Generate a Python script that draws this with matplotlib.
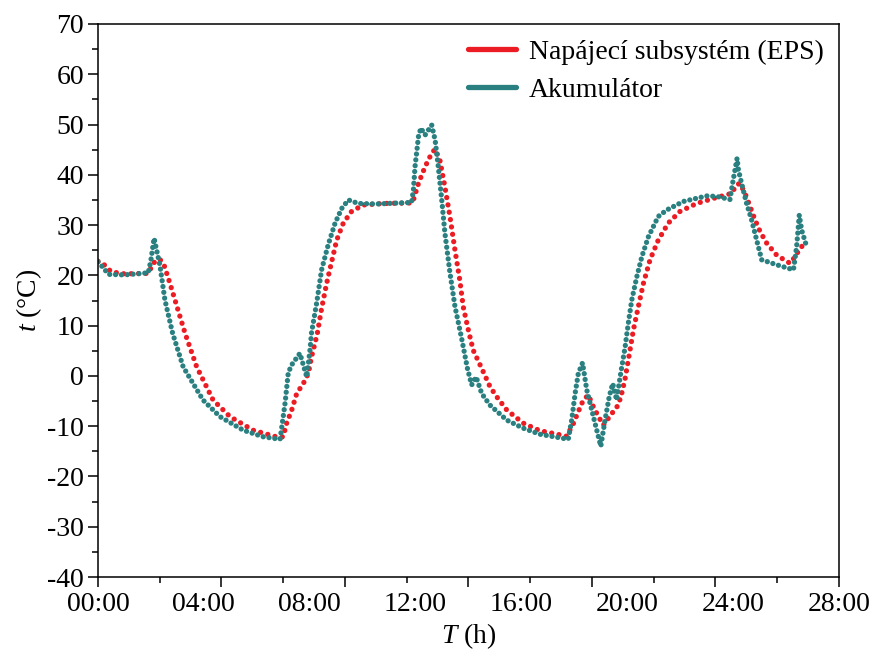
import numpy as np
import matplotlib.pyplot as plt
from matplotlib.lines import Line2D
from matplotlib.ticker import MultipleLocator, FixedLocator, NullLocator

plt.rcParams['font.family'] = ['Liberation Serif', 'DejaVu Serif']
plt.rcParams['mathtext.fontset'] = 'custom'
plt.rcParams['mathtext.rm'] = 'Liberation Serif'
plt.rcParams['mathtext.it'] = 'Liberation Serif:italic'
plt.rcParams['axes.unicode_minus'] = False

# values (time in hours, temperature in degC)
t_eps = [0, 0.2, 0.5, 1.0, 1.9, 2.1, 2.34, 2.5, 2.72, 2.91, 3.29, 3.73, 4.35, 4.99,
         5.86, 6.8, 7.0, 7.13, 7.32, 7.51, 7.76, 7.95, 8.07, 8.2, 8.29, 8.45, 8.64,
         8.83, 9.02, 9.27, 9.58, 10.02, 10.78, 11.85, 11.92, 12.11, 12.36, 12.61,
         12.74, 12.92, 13.11, 13.30, 13.49, 13.68, 13.80, 14.0, 14.18, 14.50, 14.81,
         15.06, 15.45, 16.07, 16.7, 17.08, 17.71, 17.97, 18.15, 18.34, 18.53, 18.69,
         18.91, 19.1, 19.29, 19.47, 19.66, 19.79, 19.92, 20.1, 20.23, 20.42, 20.61,
         20.86, 21.17, 21.55, 21.99, 22.62, 23.25, 23.94, 24.13, 24.26, 24.45, 24.64,
         24.83, 25.02, 25.27, 25.65, 26.15, 26.34, 26.53, 26.72]
v_eps = [22.8, 22.3, 20.7, 20.3, 20.4, 22.5, 23.2, 22.0, 18.4, 15.1, 8.5, 1.8, -4.8, -8.1,
         -10.8, -12.2, -12.1, -9.4, -6.8, -3.5, -1.5, 0.5, 3.8, 6.5, 8.5, 13.4, 18.4,
         22.7, 27.0, 30.4, 32.7, 34.0, 34.3, 34.4, 35.0, 38.3, 41.6, 44.3,
         45.1, 42.9, 37.6, 31.7, 25.0, 18.8, 13.8, 9.0, 5.1, 1.5, -2.1,
         -4.1, -6.8, -9.4, -10.9, -11.3, -12.0, -9.4, -7.1, -4.8, -3.8, -5.8,
         -8.1, -9.8, -8.4, -7.1, -5.8, -3.5, -0.5, 5.0, 9.1, 13.8, 18.4,
         23.1, 27.0, 30.4, 32.7, 34.3, 35.3, 36.3, 38.0, 38.3, 36.3, 33.7,
         31.0, 28.7, 26.4, 24.0, 22.4, 23.7, 25.4, 26.4]

t_aku = [0, 0.2, 0.4, 1.0, 1.9, 2.0, 2.12, 2.34, 2.53, 2.82, 3.22, 3.97, 4.61, 5.49,
         6.24, 6.88, 6.94, 7.07, 7.19, 7.32, 7.63, 7.89, 8.01, 8.07, 8.26, 8.45, 8.70,
         8.96, 9.21, 9.46, 9.84, 10.5, 11.85, 11.92, 11.98, 12.11, 12.2, 12.36, 12.61,
         12.74, 12.86, 12.99, 13.11, 13.30, 13.49, 13.74, 13.96, 14.12, 14.29, 14.50,
         14.81, 15.45, 16.07, 16.7, 17.77, 17.9, 18.03, 18.15, 18.31, 18.47, 18.72,
         19.0, 19.16, 19.32, 19.45, 19.6, 19.73, 19.92, 20.04, 20.17, 20.36, 20.55,
         20.80, 21.17, 21.49, 22.12, 23.0, 23.38, 23.88, 24.0, 24.15, 24.2, 24.32,
         24.51, 24.70, 24.89, 25.08, 25.65, 26.28, 26.4, 26.5, 26.59, 26.78]
v_aku = [22.7, 21.5, 20.2, 20.1, 20.5, 23.0, 27.4, 22.0, 15.1, 8.5, 1.8, -4.8, -8.1, -10.8,
         -12.1, -12.6, -10.4, -5.4, 0.6, 2.2, 4.5, -0.2, 5.1, 8.6, 14.4, 21.1, 26.1,
         30.4, 33.3, 35.0, 34.3, 34.2, 34.5, 37.0, 41.6, 47.6, 49.3, 47.9, 49.9,
         46.9, 41.6, 35.0, 28.4, 20.5, 13.8, 7.5, 1.5, -1.8, -0.2, -3.5,
         -5.8, -8.8, -10.4, -11.6, -12.6, -8.8, -3.5, 0.5, 2.6, -2.8, -8.1,
         -14.0, -8.8, -4.1, -1.5, -4.8, -0.2, 5.8, 10.5, 15.1, 19.7, 23.7,
         27.7, 31.7, 33.0, 34.7, 35.8, 35.7, 35.1, 38.9, 43.3, 41.0, 38.3,
         34.3, 31.0, 27.0, 23.1, 22.1, 21.1, 25.7, 32.0, 29.0, 25.7]

labels = ['Napájecí subsystém (EPS)', 'Akumulátor']
colors = ['#ec1c24', '#2a8080']
x_ticklabels = ['00:00', '04:00', '08:00', '12:00', '16:00', '20:00', '24:00', '28:00']

fig = plt.figure(figsize=(8.81, 6.52), dpi=100)
ax = fig.add_axes([0.1112, 0.115, 0.8411, 0.8482])

ax.plot(t_eps, v_eps, color=colors[0], lw=3.8, linestyle=(0, (0.01, 1.4)),
        dash_capstyle='round')
ax.plot(t_aku, v_aku, color=colors[1], lw=3.8, linestyle=(0, (0.01, 1.1)),
        dash_capstyle='round')

ax.set_xlim(0, 28)
ax.set_ylim(-40, 70)
# in the source the tick marks do not line up with the hour labels
ax.xaxis.set_major_locator(FixedLocator(np.linspace(0, 28, 7)))
ax.xaxis.set_minor_locator(FixedLocator(np.linspace(0, 28, 13)))
ax.xaxis.set_major_formatter(plt.NullFormatter())
ax.yaxis.set_major_locator(MultipleLocator(10))
ax.yaxis.set_minor_locator(MultipleLocator(5))
ax.tick_params(which='both', direction='out', width=1.1, labelsize=20,
               top=False, right=False)
ax.tick_params(which='major', length=7)
ax.tick_params(which='minor', length=4)
ax.tick_params(axis='y', pad=3)
for s in ax.spines.values():
    s.set_linewidth(1.1)

sec = ax.secondary_xaxis('bottom')
sec.set_xticks(range(0, 29, 4), x_ticklabels)
sec.xaxis.set_minor_locator(NullLocator())
sec.tick_params(length=0, pad=11, labelsize=20)
sec.spines['bottom'].set_visible(False)
sec.set_xlabel(r'$T$ (h)', fontsize=20, labelpad=3)

ax.set_ylabel(r'$t$ (°C)', fontsize=20, labelpad=2)

handles = [Line2D([], [], color=c, lw=3.8, solid_capstyle='round') for c in colors]
ax.legend(handles, labels, loc='upper right', frameon=False, fontsize=20,
          handlelength=1.75, handletextpad=0.45, labelspacing=0.45,
          borderaxespad=0.2, borderpad=0.35)

fig.savefig('out.png', dpi=100)
